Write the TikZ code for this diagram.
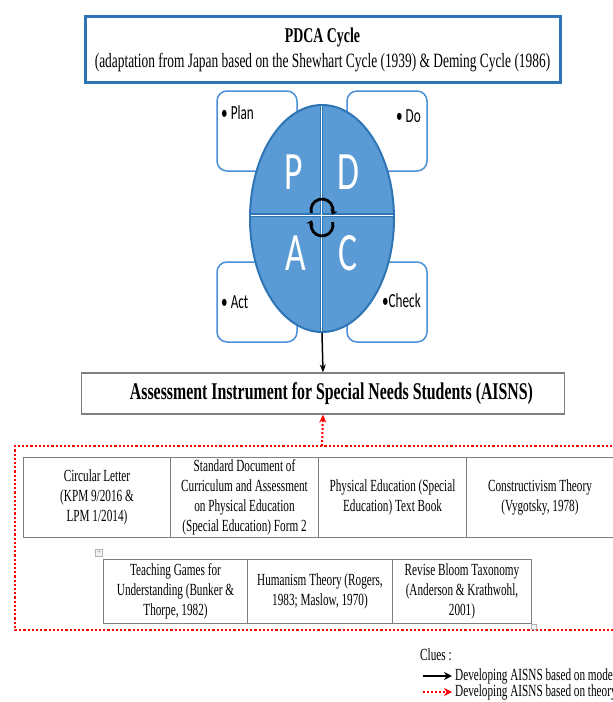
\documentclass[tikz,border=0pt]{standalone}
\usepackage{fontspec}
\setmainfont{Liberation Serif}
\newfontfamily\tmsfont[FakeStretch=0.66]{Liberation Serif}
\newfontfamily\calfont[FakeStretch=0.66]{Carlito}
\usetikzlibrary{arrows.meta,shapes.geometric}
\definecolor{bdark}{HTML}{2E75B6}
\definecolor{bfill}{HTML}{5B9BD5}
\definecolor{bline}{HTML}{4A90D9}
\definecolor{cellline}{HTML}{7F7F7F}
\tikzset{
  hdr/.style={draw=bdark, line width=3, fill=white, inner sep=0, align=center},
  rbox/.style={draw=bline, line width=1.5, rounded corners=10, fill=white, minimum width=80, minimum height=80, inner sep=0},
  cell/.style={draw=cellline, line width=1, inner sep=0, align=center, anchor=north west, font=\tmsfont\fontsize{17}{20}\selectfont},
  bigL/.style={text=white, inner sep=0, font=\calfont\fontsize{54}{54}\selectfont},
  lbl/.style={inner sep=0, font=\calfont\fontsize{20}{22}\selectfont},
  legtxt/.style={inner sep=0, anchor=west, font=\tmsfont\fontsize{17}{20}\selectfont},
  dotred/.style={red, line width=2.8, dash pattern=on 2.2 off 2},
  blk/.style={black, line width=1.5, -{Stealth[length=8,width=6]}},
  redarr/.style={red, line width=2, dash pattern=on 2 off 2, -{Stealth[length=8,width=7]}},
}
\begin{document}
\begin{tikzpicture}[x=1pt,y=1pt]
\useasboundingbox (0,0) rectangle (613,-702);
\clip (0,0) rectangle (613,-702);
\fill[white] (0,0) rectangle (613,-702);

% header
\node[hdr, minimum width=475, minimum height=66] (top) at (322.5,-49.5)
  {\tmsfont\fontsize{21}{24}\selectfont\bfseries PDCA Cycle\\[5pt]
   \tmsfont\fontsize{20.3}{24}\selectfont (adaptation from Japan based on the Shewhart Cycle (1939) \& Deming Cycle (1986)};

% corner boxes
\node[rbox] (plan) at (257,-131) {};
\node[rbox] (do) at (387,-131) {};
\node[rbox] (act) at (257,-302) {};
\node[rbox] (check) at (387,-302) {};
\node[lbl, anchor=west] (tplan) at (221,-113) {\textbullet\ Plan};
\node[lbl, anchor=east] (tdo) at (421,-116) {\textbullet\ Do};
\node[lbl, anchor=west] (tact) at (221,-302) {\textbullet\ Act};
\node[lbl, anchor=east] (tcheck) at (421,-301) {\textbullet Check};

% PDCA circle
\node[ellipse, draw=bdark, fill=bfill, line width=2, minimum width=144, minimum height=227, inner sep=0] (circ) at (322,-218.5) {};
\coordinate (vt) at (321.5,-106);
\coordinate (vb) at (321.5,-331);
\coordinate (hl) at (251,-215);
\coordinate (hr) at (393,-215);
\draw[bdark, line width=3.5] (vt) -- (vb);
\draw[bdark, line width=3.5] (hl) -- (hr);
\draw[white, line width=1] (vt) -- (vb);
\draw[white, line width=1] (hl) -- (hr);
\node[bigL] (lp) at (294,-172) {P};
\node[bigL] (ld) at (348,-172) {D};
\node[bigL] (la) at (295.5,-253) {A};
\node[bigL] (lc) at (347.5,-253) {C};

% rotation arrows
\coordinate (rt) at (322,-210);
\coordinate (rb) at (322,-225);
\draw[black, line width=2.8, -{Stealth[length=5,width=8]}] (rt) ++(195:11) arc[start angle=195, end angle=-25, x radius=11, y radius=11];
\draw[black, line width=2.8, -{Stealth[length=5,width=8]}] (rb) ++(15:11) arc[start angle=15, end angle=-205, x radius=11, y radius=11];

% AISNS box
\node[draw=cellline, line width=1.2, minimum width=483, minimum height=41, inner sep=0, fill=white] (aisns) at (323,-393.5)
  {\hspace*{17pt}\tmsfont\fontsize{24}{26}\selectfont\bfseries Assessment Instrument for Special Needs Students (AISNS)};
\draw[blk] (circ.south) -- (aisns.north);

% dotted frame
\draw[dotred] (650,-446) -- (15,-446) -- (15,-630) -- (650,-630);
\coordinate (dtop) at (322,-446);
\draw[redarr] (dtop) -- (aisns.south);

% row 1
\node[cell, minimum width=147, minimum height=80] (c1) at (23,-457) {Circular Letter\\(KPM 9/2016 \&\\LPM 1/2014)};
\node[cell, minimum width=148, minimum height=80] (c2) at (170,-457) {Standard Document of\\Curriculum and Assessment\\on Physical Education\\(Special Education) Form 2};
\node[cell, minimum width=148, minimum height=80] (c3) at (318,-457) {Physical Education (Special\\Education) Text Book};
\node[cell, minimum width=147, minimum height=80] (c4) at (466,-457) {Constructivism Theory\\(Vygotsky, 1978)};

% row 2
\node[cell, minimum width=144, minimum height=64] (d1) at (103,-559) {Teaching Games for\\Understanding (Bunker \&\\Thorpe, 1982)};
\node[cell, minimum width=145, minimum height=64] (d2) at (247,-559) {Humanism Theory (Rogers,\\1983; Maslow, 1970)};
\node[cell, minimum width=139, minimum height=64] (d3) at (392,-559) {Revise Bloom Taxonomy\\(Anderson \& Krathwohl,\\2001)};

% table handles
\node[draw=gray!60, fill=gray!10, minimum size=7, inner sep=0, font=\fontsize{7}{7}\selectfont, text=gray] (hnd) at (99,-553) {+};
\node[draw=gray!60, fill=white, minimum size=5, inner sep=0] (sq) at (534,-627) {};

% legend
\node[legtxt] (clues) at (420,-655) {Clues :};
\coordinate (k1a) at (423,-676);
\coordinate (k1b) at (452,-676);
\coordinate (k2a) at (423,-692);
\coordinate (k2b) at (452,-692);
\draw[black, line width=2.2, -{Stealth[length=8,width=8]}] (k1a) -- (k1b);
\draw[red, line width=2.2, dash pattern=on 2 off 2, -{Stealth[length=8,width=8]}] (k2a) -- (k2b);
\node[legtxt] (leg1) at (455,-676) {Developing AISNS based on model};
\node[legtxt] (leg2) at (455,-692) {Developing AISNS based on theory};
\end{tikzpicture}
\end{document}
